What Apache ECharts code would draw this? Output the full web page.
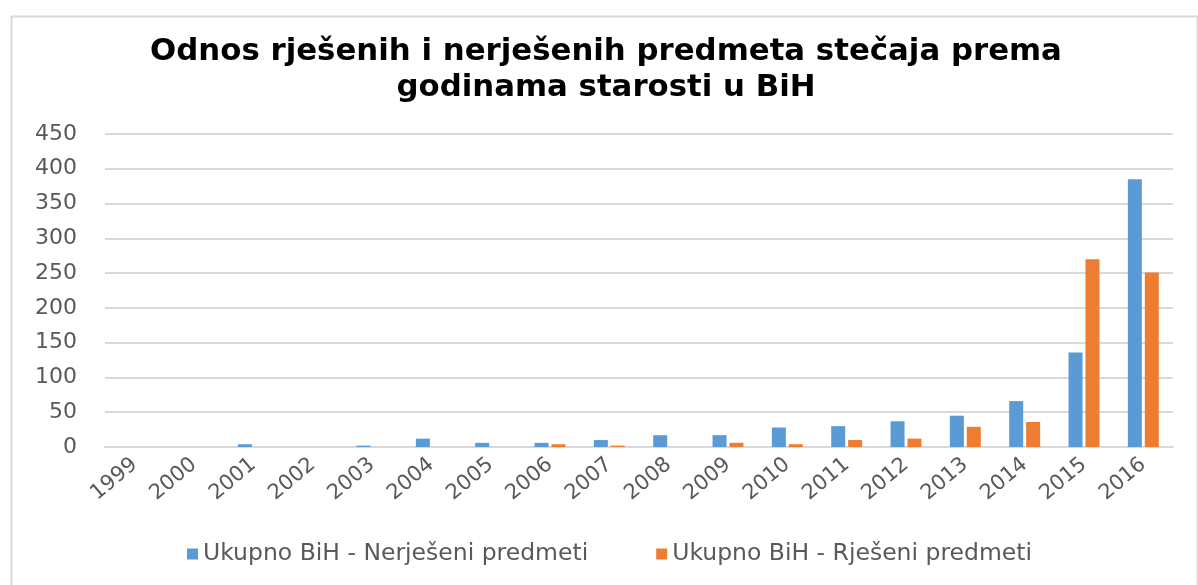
<!DOCTYPE html>
<html>
<head>
<meta charset="utf-8">
<script src="https://cdn.jsdelivr.net/npm/echarts@6/dist/echarts.min.js"></script>
<style>
    html, body { margin: 0; padding: 0; background: #fff; }
    #chart { width: 1198px; height: 585px; }
</style>
</head>
<body>
<div id="chart"></div>
<script>
const years = ['1999', '2000', '2001', '2002', '2003', '2004', '2005', '2006', '2007',
    '2008', '2009', '2010', '2011', '2012', '2013', '2014', '2015', '2016'];
// Ukupno BiH - Nerješeni predmeti
const unresolved = [0, 0, 4, 0, 2, 12, 6, 6, 10, 17, 17, 28, 30, 37, 45, 66, 136, 385];
// Ukupno BiH - Rješeni predmeti
const resolved = [0, 0, 0, 0, 0, 0, 0, 4, 2, 0, 6, 4, 10, 12, 29, 36, 270, 251];
const yTicks = { min: 0, max: 450, step: 50 };

const labelFont = 'DejaVu Sans';
const gray = '#595959';

const chart = echarts.init(document.getElementById('chart'));

chart.setOption({
    animation: false,
    color: ['#5B9BD5', '#ED7D31'],
    title: {
        text: 'Odnos rješenih i nerješenih predmeta stečaja prema\ngodinama starosti u BiH',
        left: 606,
        textAlign: 'center',
        top: 34,
        padding: 0,
        textStyle: {
            fontFamily: labelFont,
            fontWeight: 'bold',
            fontSize: 30.8,
            lineHeight: 36,
            color: '#000'
        }
    },
    graphic: [{
        type: 'rect',
        left: 9,
        top: 14,
        shape: { width: 1186, height: 600 },
        style: { fill: 'none', stroke: '#d9d9d9', lineWidth: 2 },
        silent: true
    }],
    legend: {
        bottom: 14,
        left: 182,
        itemWidth: 11,
        itemHeight: 11,
        itemGap: 68,
        icon: 'rect',
        textStyle: {
            fontFamily: labelFont,
            fontSize: 23.5,
            color: gray
        }
    },
    grid: {
        left: 105,
        right: 25,
        top: 134,
        bottom: 138
    },
    xAxis: {
        type: 'category',
        data: years,
        axisLine: { lineStyle: { color: '#d9d9d9', width: 2 } },
        axisTick: { show: false },
        axisLabel: {
            interval: 0,
            rotate: 40,
            margin: 15,
            fontFamily: labelFont,
            fontSize: 21,
            color: gray
        }
    },
    yAxis: {
        type: 'value',
        min: yTicks.min,
        max: yTicks.max,
        interval: yTicks.step,
        axisLine: { show: false },
        axisTick: { show: false },
        splitLine: { lineStyle: { color: '#d9d9d9', width: 2 } },
        axisLabel: {
            margin: 28,
            fontFamily: labelFont,
            fontSize: 22,
            color: gray
        }
    },
    series: [
        {
            name: 'Ukupno BiH - Nerješeni predmeti',
            type: 'bar',
            data: unresolved,
            barWidth: 14,
            barGap: '21%'
        },
        {
            name: 'Ukupno BiH - Rješeni predmeti',
            type: 'bar',
            data: resolved,
            barWidth: 14
        }
    ]
});
</script>
</body>
</html>
